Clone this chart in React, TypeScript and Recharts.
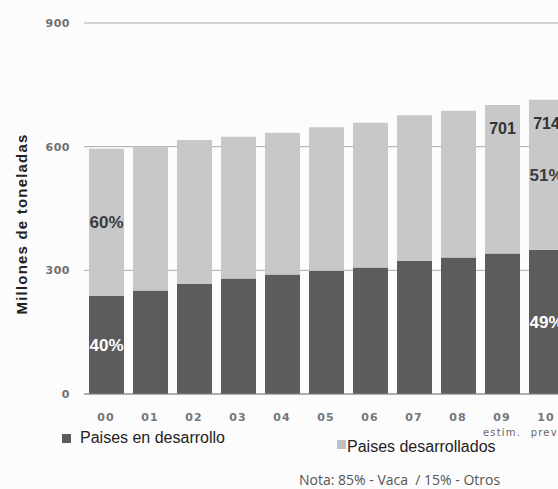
import { BarChart, Bar, XAxis, YAxis, CartesianGrid, LabelList, Label } from 'recharts';

const years = ['00', '01', '02', '03', '04', '05', '06', '07', '08', '09', '10'];
const subLabels = ['', '', '', '', '', '', '', '', '', 'estim.', 'prev.'];
const developing = [238, 251, 267, 280, 290, 299, 307, 323, 331, 341, 350];
const developed = [357, 349, 349, 344, 344, 348, 351, 353, 356, 360, 364];
const developingPct = ['40%', '', '', '', '', '', '', '', '', '', '49%'];
const developedPct = ['60%', '', '', '', '', '', '', '', '', '', '51%'];
const totalLabels = ['', '', '', '', '', '', '', '', '', '701', '714'];
const yTicks = [0, 300, 600, 900];

const DARK = '#5c5c5c';
const LIGHT = '#c7c8ca';

const data = years.map((y, i) => ({
  year: y,
  sub: subLabels[i],
  developing: developing[i],
  developed: developed[i],
  devingPct: developingPct[i],
  devedPct: developedPct[i],
  total: totalLabels[i],
}));

const YearTick = (props: any) => {
  const { x, y, payload, index } = props;
  return (
    <g transform={`translate(${x},${y})`}>
      <text textAnchor="middle" y={27} fontFamily="DejaVu Sans" fontWeight="bold" fontSize={11} letterSpacing={1.2} fill="#777">
        {payload.value}
      </text>
      {subLabels[index] ? (
        <text textAnchor="middle" y={42} fontFamily="DejaVu Sans" fontSize={10} letterSpacing={1.2} fill="#666">
          {subLabels[index]}
        </text>
      ) : null}
    </g>
  );
};

export default function App() {
  return (
    <div
      style={{
        position: 'fixed',
        left: 0,
        top: 0,
        width: 558,
        height: 489,
        overflow: 'hidden',
        background: '#fcfcfc',
        fontFamily: '"Liberation Sans", Arial, sans-serif',
      }}
    >
      <BarChart width={610} height={489} data={data} margin={{ top: 23, right: 42, left: 0, bottom: 0 }} barSize={35}>
        <CartesianGrid vertical={false} stroke="#aaaaaa" />
        <XAxis
          dataKey="year"
          height={95}
          interval={0}
          tickLine={false}
          tickSize={0}
          tickMargin={0}
          axisLine={{ stroke: '#8a8a8a' }}
          tick={<YearTick />}
        />
        <YAxis
          width={84}
          domain={[0, 900]}
          ticks={yTicks}
          axisLine={false}
          tickLine={false}
          tickSize={0}
          tickMargin={14}
          tick={{ fontFamily: 'DejaVu Sans', fontWeight: 'bold', fontSize: 11, fill: '#707070', letterSpacing: 0.5 }}
        >
          <Label
            content={() => (
              <text
                transform="translate(27,224) rotate(-90)"
                textAnchor="middle"
                fontFamily="Liberation Sans"
                fontWeight="bold"
                fontSize={15}
                letterSpacing={1.2}
                fill="#222"
              >
                Millones de toneladas
              </text>
            )}
          />
        </YAxis>
        <Bar dataKey="developing" stackId="a" fill={DARK} isAnimationActive={false}>
          <LabelList dataKey="devingPct" position="center" fill="#ffffff" fontSize={17} fontWeight="bold" fontFamily="Liberation Sans" />
        </Bar>
        <Bar dataKey="developed" stackId="a" fill={LIGHT} isAnimationActive={false}>
          <LabelList dataKey="devedPct" position="center" fill="#3c3c3c" fontSize={17} fontWeight="bold" fontFamily="Liberation Sans" />
          <LabelList dataKey="total" position="insideTop" offset={18} fill="#333" fontSize={16} fontWeight="bold" fontFamily="Liberation Sans" />
        </Bar>
      </BarChart>

      <div style={{ position: 'absolute', left: 62, top: 434, width: 9, height: 9, background: DARK }} />
      <div style={{ position: 'absolute', left: 80, top: 430, fontSize: 16, lineHeight: '16px', color: '#222', whiteSpace: 'nowrap' }}>
        Paises en desarrollo
      </div>
      <div style={{ position: 'absolute', left: 337, top: 440, width: 9, height: 9, background: '#c0c1c3' }} />
      <div style={{ position: 'absolute', left: 347, top: 439, fontSize: 16, lineHeight: '16px', color: '#222', whiteSpace: 'nowrap' }}>
        Paises desarrollados
      </div>
      <div
        style={{
          position: 'absolute',
          left: 299,
          top: 472,
          fontFamily: '"Open Sans"',
          fontSize: 14,
          lineHeight: '16px',
          color: '#555',
          whiteSpace: 'pre',
        }}
      >
        {'Nota: 85% - Vaca  / 15% - Otros'}
      </div>
    </div>
  );
}
